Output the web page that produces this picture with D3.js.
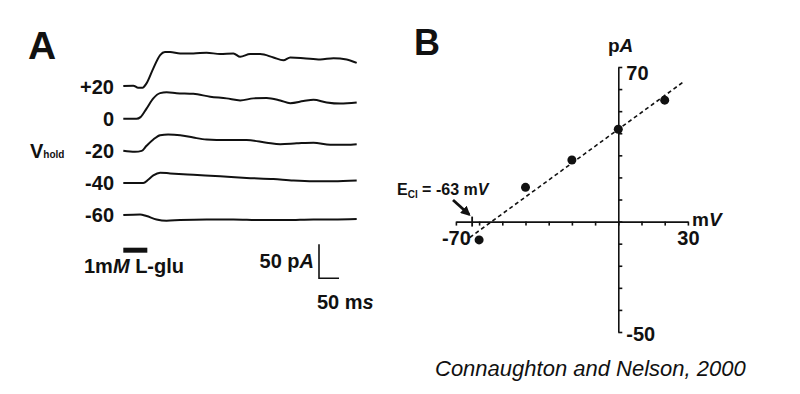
<!DOCTYPE html>
<html>
<head>
<meta charset="utf-8">
<script src="https://cdn.jsdelivr.net/npm/d3@7"></script>
<style>
  body { margin: 0; background: #fff; }
  text { font-family: "Liberation Sans", Arial, Helvetica, sans-serif; fill: #111; }
  .lbl { font-weight: bold; font-size: 20px; }
  .axis path, .axis line { stroke: #111; stroke-width: 1.6; }
  .axis text { font-family: "Liberation Sans", Arial, sans-serif; font-weight: bold; font-size: 20px; fill: #111; }
</style>
</head>
<body>
<div id="chart"></div>
<script>
// ---- panel A: holding potentials and traces (time in ms, current in pA)
var holds = [20, 0, -20, -40, -60];
var holdLabels = ["+20", "0", "-20", "-40", "-60"];

var t20 = [0, 25, 37, 48, 58, 75, 92, 104, 117, 142, 175, 208, 242, 275, 292, 317, 342, 375, 400, 417, 450, 492, 525, 558, 583];
var i20 = [0.9, 1.5, -1.5, -1.5, 4.9, 27, 46.5, 51, 51, 49, 49, 50, 48, 49, 44, 48, 48, 43, 39, 43, 42, 40, 42, 40, 35];

var t0 = [0, 33, 43, 58, 75, 92, 108, 133, 175, 217, 258, 292, 325, 358, 392, 417, 450, 475, 508, 542, 583];
var i0 = [0, 0, 2.4, 15, 30, 37.7, 39, 37.7, 36.7, 32.5, 30, 27, 30, 30.7, 27, 23, 26, 28, 24, 22.3, 24];

var tm20 = [0, 29, 46, 58, 75, 92, 112, 142, 175, 208, 258, 308, 358, 392, 433, 475, 517, 558, 583];
var im20 = [0, -1.5, 0, 7.4, 16.7, 23, 24, 23, 19.5, 16.7, 15.8, 15.8, 12, 9.8, 11, 12, 8.8, 8.8, 9.8];

var tm40 = [0, 50, 62, 75, 92, 117, 175, 242, 308, 375, 425, 475, 525, 583];
var im40 = [0, 0, 4.6, 11, 15, 14, 12, 9.8, 7.4, 5.6, 3.4, 2.4, 2.4, 3.4];

var tm60 = [0, 42, 58, 83, 108, 142, 208, 275, 342, 408, 475, 525, 583];
var im60 = [0, 0.9, -1.5, -6.5, -8.4, -7.4, -6.5, -6.5, -7.4, -7.4, -6.5, -6.5, -5.9];

var traceT = [t20, t0, tm20, tm40, tm60];
var traceI = [i20, i0, im20, im40, im60];

var gluOn = 0, gluOff = 60;       // ms, drug bar
var barPA = 50, barMS = 50;       // scale bar

// ---- panel B: I-V relation
var vm = [-60, -40, -20, 0, 20];
var ipA = [-8.3, 15.5, 27.9, 41.8, 55];
var fitV = [-64, 28];
var fitI = [-7.2, 63.2];
var eCl = -63;
var xTickLabels = [-70, 30];
var yTickLabels = [70, -50];

var svgWidth = 800, svgHeight = 394;

var svg = d3.select("#chart").append("svg")
  .attr("width", svgWidth)
  .attr("height", svgHeight);

// ================= Panel A =================
var tScale = d3.scaleLinear().domain([0, 583]).range([123.3, 356.7]);
var iScale = d3.scaleLinear().domain([0, 50]).range([0, -34]);
var yHold = d3.scalePoint().domain(holds).range([86.7, 215]);

svg.append("text")
  .attr("x", 28).attr("y", 59)
  .style("font-weight", "bold").style("font-size", "39px")
  .text("A");

var line = d3.line()
  .x(d => tScale(d[0]))
  .y(d => iScale(d[1]))
  .curve(d3.curveMonotoneX);

holds.forEach(function(h, k) {
  var g = svg.append("g").attr("transform", `translate(0, ${yHold(h)})`);
  var pts = traceT[k].map((t, j) => [t, traceI[k][j]]);
  g.append("path")
    .attr("d", line(pts))
    .attr("fill", "none")
    .attr("stroke", "#111")
    .attr("stroke-width", 2);

  g.append("text")
    .attr("class", "lbl")
    .attr("x", 114).attr("y", 0).attr("dy", "0.36em")
    .attr("text-anchor", "end")
    .text(holdLabels[k]);
});

// V_hold label
var vh = svg.append("text").attr("x", 30).attr("y", 158).attr("class", "lbl");
vh.append("tspan").text("V");
vh.append("tspan").style("font-size", "10px").attr("dy", 0).text("hold");

// drug application bar
svg.append("rect")
  .attr("x", tScale(gluOn)).attr("y", 247.7)
  .attr("width", tScale(gluOff) - tScale(gluOn)).attr("height", 5)
  .attr("fill", "#111");

var glu = svg.append("text").attr("class", "lbl").attr("x", 84).attr("y", 273);
glu.append("tspan").text("1m");
glu.append("tspan").style("font-style", "italic").text("M");
glu.append("tspan").text(" L-glu");

// scale bar
var sbX = 319, sbY = 278.3;
svg.append("path")
  .attr("d", `M${sbX},${sbY + iScale(barPA)}V${sbY}H${sbX + tScale(barMS) - tScale(0)}`)
  .attr("fill", "none").attr("stroke", "#111").attr("stroke-width", 1.6);

var pa = svg.append("text").attr("class", "lbl").attr("x", 314).attr("y", 268).attr("text-anchor", "end");
pa.append("tspan").text("50 p");
pa.append("tspan").style("font-style", "italic").text("A");

var ms = svg.append("text").attr("class", "lbl").attr("x", 317).attr("y", 309);
ms.append("tspan").text("50 m");
ms.append("tspan").style("font-style", "italic").text("s");

// ================= Panel B =================
var xScale = d3.scaleLinear().domain([-70, 30]).range([455.9, 687.9]);
var yScale = d3.scaleLinear().domain([-50, 70]).range([332, 67]);

svg.append("text")
  .attr("x", 414).attr("y", 55)
  .style("font-weight", "bold").style("font-size", "36px")
  .text("B");

var xAxis = d3.axisBottom(xScale)
  .tickValues(d3.range(-70, 31, 10))
  .tickSize(4).tickSizeOuter(0).tickPadding(5)
  .tickFormat(d => xTickLabels.includes(d) ? d : "");

svg.append("g")
  .attr("class", "axis")
  .attr("transform", `translate(0, ${yScale(0)})`)
  .call(xAxis);

var yAxis = d3.axisRight(yScale)
  .tickValues(d3.range(-50, 71, 10))
  .tickSize(4).tickSizeOuter(0).tickPadding(4)
  .tickFormat(d => yTickLabels.includes(d) ? d : "");

var yG = svg.append("g")
  .attr("class", "axis")
  .attr("transform", `translate(${xScale(0)}, 0)`)
  .call(yAxis);
yG.selectAll(".tick text").filter(d => d === 70).attr("dy", "0.62em");
yG.selectAll(".tick text").filter(d => d === -50).attr("dy", "0.4em");

// reversal potential marker
svg.append("line")
  .attr("x1", xScale(eCl)).attr("x2", xScale(eCl))
  .attr("y1", yScale(0) - 5).attr("y2", yScale(0) + 5)
  .attr("stroke", "#111").attr("stroke-width", 1.8);

// fitted line
svg.append("line")
  .attr("x1", xScale(fitV[0])).attr("y1", yScale(fitI[0]))
  .attr("x2", xScale(fitV[1])).attr("y2", yScale(fitI[1]))
  .attr("stroke", "#111").attr("stroke-width", 1.6)
  .attr("stroke-dasharray", "4,3");

svg.selectAll("circle.pt")
  .data(vm)
  .enter()
  .append("circle")
  .attr("class", "pt")
  .attr("cx", d => xScale(d))
  .attr("cy", (d, k) => yScale(ipA[k]))
  .attr("r", 4.5)
  .attr("fill", "#111");

// axis units
var pAlab = svg.append("text").attr("class", "lbl").attr("x", 608).attr("y", 52).style("font-size", "19px");
pAlab.append("tspan").text("p");
pAlab.append("tspan").style("font-style", "italic").text("A");

var mVlab = svg.append("text").attr("class", "lbl").attr("x", 692).attr("y", 226).style("font-size", "19px");
mVlab.append("tspan").text("m");
mVlab.append("tspan").style("font-style", "italic").text("V");

// E_Cl annotation with arrow
var eLab = svg.append("text").attr("class", "lbl").attr("x", 397).attr("y", 195).style("font-size", "16px");
eLab.append("tspan").text("E");
eLab.append("tspan").style("font-size", "10px").attr("dy", 3).text("Cl");
eLab.append("tspan").attr("dy", -3).text(" = -63 m");
eLab.append("tspan").style("font-style", "italic").text("V");

svg.append("defs").append("marker")
  .attr("id", "arrow")
  .attr("viewBox", "0 0 10 10")
  .attr("refX", 8).attr("refY", 5)
  .attr("markerWidth", 3.5).attr("markerHeight", 3.5)
  .attr("orient", "auto")
  .append("path")
  .attr("d", "M0,0L10,5L0,10Z")
  .attr("fill", "#111");

svg.append("line")
  .attr("x1", 453).attr("y1", 200)
  .attr("x2", xScale(eCl) - 3).attr("y2", yScale(0) - 7)
  .attr("stroke", "#111").attr("stroke-width", 2.8)
  .attr("marker-end", "url(#arrow)");

// citation
svg.append("text")
  .attr("x", 435).attr("y", 376)
  .style("font-style", "italic").style("font-size", "22px")
  .text("Connaughton and Nelson, 2000");
</script>
</body>
</html>
